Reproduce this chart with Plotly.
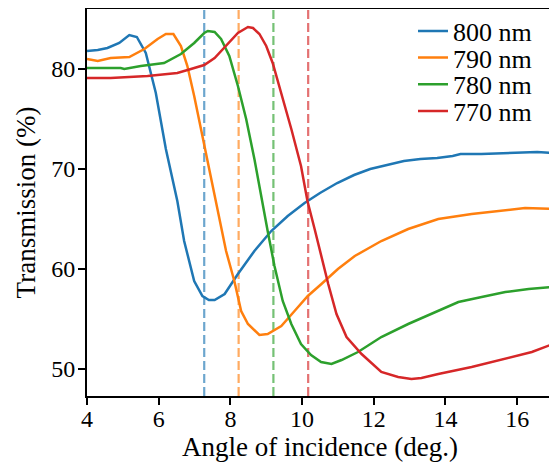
import plotly.graph_objects as go

# ---- data ----
x_800 = [4.0, 4.3, 4.57, 4.9, 5.18, 5.39, 5.64, 5.92, 6.2, 6.52, 6.71, 6.99, 7.22, 7.4, 7.56, 7.84,
         8.21, 8.67, 9.14, 9.6, 10.07, 10.5, 10.98, 11.45, 11.9, 12.4, 12.84, 13.3, 13.77, 14.2,
         14.42, 15.0, 15.63, 16.1, 16.56, 17.0]
y_800 = [81.8, 81.9, 82.1, 82.6, 83.4, 83.2, 81.6, 77.6, 72.0, 66.8, 62.8, 58.8, 57.3, 56.9, 56.9, 57.5,
         59.5, 61.8, 63.8, 65.3, 66.6, 67.6, 68.6, 69.4, 70.0, 70.4, 70.8, 71.0, 71.1, 71.3,
         71.5, 71.5, 71.6, 71.6, 71.7, 71.6]

x_790 = [4.0, 4.3, 4.66, 5.18, 5.6, 5.97, 6.2, 6.41, 6.62, 6.8, 6.99, 7.22, 7.6, 7.88, 8.11, 8.3,
         8.49, 8.81, 9.04, 9.42, 9.79, 10.16, 10.54, 11.0, 11.47, 12.21, 12.96, 13.8, 14.73, 15.67,
         16.22, 17.0]
y_790 = [81.0, 80.8, 81.1, 81.2, 82.0, 83.0, 83.5, 83.5, 82.3, 80.3, 77.3, 73.3, 66.5, 61.8, 58.8, 55.8,
         54.5, 53.4, 53.5, 54.3, 55.8, 57.3, 58.5, 60.0, 61.3, 62.8, 64.0, 65.0, 65.5, 65.9,
         66.1, 66.0]

x_780 = [4.0, 4.5, 4.94, 5.04, 5.5, 6.15, 6.62, 6.99, 7.27, 7.37, 7.56, 7.74, 7.97, 8.21, 8.44, 8.67,
         8.86, 9.04, 9.23, 9.46, 9.7, 9.97, 10.25, 10.53, 10.82, 11.1, 11.56, 12.21, 12.96, 13.8,
         14.36, 15.01, 15.67, 16.32, 17.0]
y_780 = [80.1, 80.1, 80.1, 80.0, 80.3, 80.6, 81.5, 82.6, 83.6, 83.8, 83.7, 83.0, 81.3, 78.3, 75.0, 71.0,
         67.2, 63.8, 60.3, 56.8, 54.5, 52.5, 51.4, 50.7, 50.5, 50.9, 51.7, 53.2, 54.5, 55.8,
         56.7, 57.2, 57.7, 58.0, 58.2]

x_770 = [4.0, 4.66, 5.69, 6.52, 6.9, 7.27, 7.56, 7.88, 8.21, 8.49, 8.63, 8.81, 9.0, 9.18, 9.42, 9.7,
         9.97, 10.15, 10.35, 10.54, 10.73, 10.96, 11.24, 11.66, 12.21, 12.68, 13.05, 13.33, 13.8,
         14.73, 15.67, 16.41, 17.0]
y_770 = [79.1, 79.1, 79.3, 79.6, 80.0, 80.4, 81.1, 82.3, 83.6, 84.2, 84.1, 83.5, 82.3, 80.6, 77.6, 74.0,
         70.3, 66.8, 64.0, 61.2, 58.5, 55.5, 53.2, 51.5, 49.7, 49.2, 49.0, 49.1, 49.5,
         50.2, 51.0, 51.7, 52.5]

series_names = ["800 nm", "790 nm", "780 nm", "770 nm"]
series_x = [x_800, x_790, x_780, x_770]
series_y = [y_800, y_790, y_780, y_770]
colors = ["#1f77b4", "#ff7f0e", "#2ca02c", "#d62728"]
vline_angles = [7.27, 8.23, 9.2, 10.17]

x_ticks = [4, 6, 8, 10, 12, 14, 16]
y_ticks = [50, 60, 70, 80]

FONT = "Liberation Serif"

# figure is offset by the page's 8px body margin; margins are in figure pixels
W, H = 557, 467
ML, MR, MT, MB = 79, 12, 1, 79
PW, PH = W - ML - MR, H - MT - MB

legend_ids = ["legend", "legend2", "legend3", "legend4"]
legend_rows_px = [23.0, 49.6, 76.3, 103.0]   # row centres (figure pixels)

fig = go.Figure()
for name, xs, ys, c, lid in zip(series_names, series_x, series_y, colors, legend_ids):
    fig.add_trace(go.Scatter(x=xs, y=ys, mode="lines", name=name, legend=lid,
                             line=dict(color=c, width=2.5)))

for v, c in zip(vline_angles, colors):
    fig.add_shape(type="line", xref="x", yref="paper", x0=v, x1=v, y0=0, y1=1,
                  line=dict(color=c, width=2.2, dash="9px,4px"), opacity=0.65, layer="below")

legend_x = (405 - ML) / PW
layout_legends = {}
for lid, py in zip(legend_ids, legend_rows_px):
    layout_legends[lid] = dict(x=legend_x, xanchor="left", y=1 - (py - MT) / PH, yanchor="middle",
                               font=dict(size=26, family=FONT, color="black"),
                               bgcolor="rgba(0,0,0,0)", borderwidth=0, itemwidth=30)

fig.update_layout(
    width=W, height=H,
    margin=dict(l=ML, r=MR, t=MT, b=MB, autoexpand=False),
    paper_bgcolor="white", plot_bgcolor="white",
    font=dict(family=FONT, color="black", size=24),
    showlegend=True,
    **layout_legends,
)
fig.update_xaxes(range=[4, 17], tickvals=x_ticks, ticktext=[str(t) for t in x_ticks],
                 showgrid=False, zeroline=False, showline=True, mirror=True, automargin=False,
                 linecolor="black", linewidth=2, ticks="outside", ticklen=7, tickwidth=1.8,
                 tickcolor="black", tickfont=dict(size=24, family=FONT, color="black"),
                 ticklabelstandoff=-7,
                 title=dict(text="Angle of incidence (deg.)", font=dict(size=27, family=FONT, color="black"), standoff=4))
fig.update_yaxes(range=[47.3, 86.0], tickvals=y_ticks, ticktext=[str(t) for t in y_ticks],
                 showgrid=False, zeroline=False, showline=True, mirror=True, automargin=False,
                 linecolor="black", linewidth=2, ticks="outside", ticklen=7, tickwidth=1.8,
                 tickcolor="black", tickfont=dict(size=24, family=FONT, color="black"),
                 ticklabelstandoff=-2,
                 title=dict(text="Transmission (%)", font=dict(size=27, family=FONT, color="black"), standoff=8))

fig.write_html("out.html")
